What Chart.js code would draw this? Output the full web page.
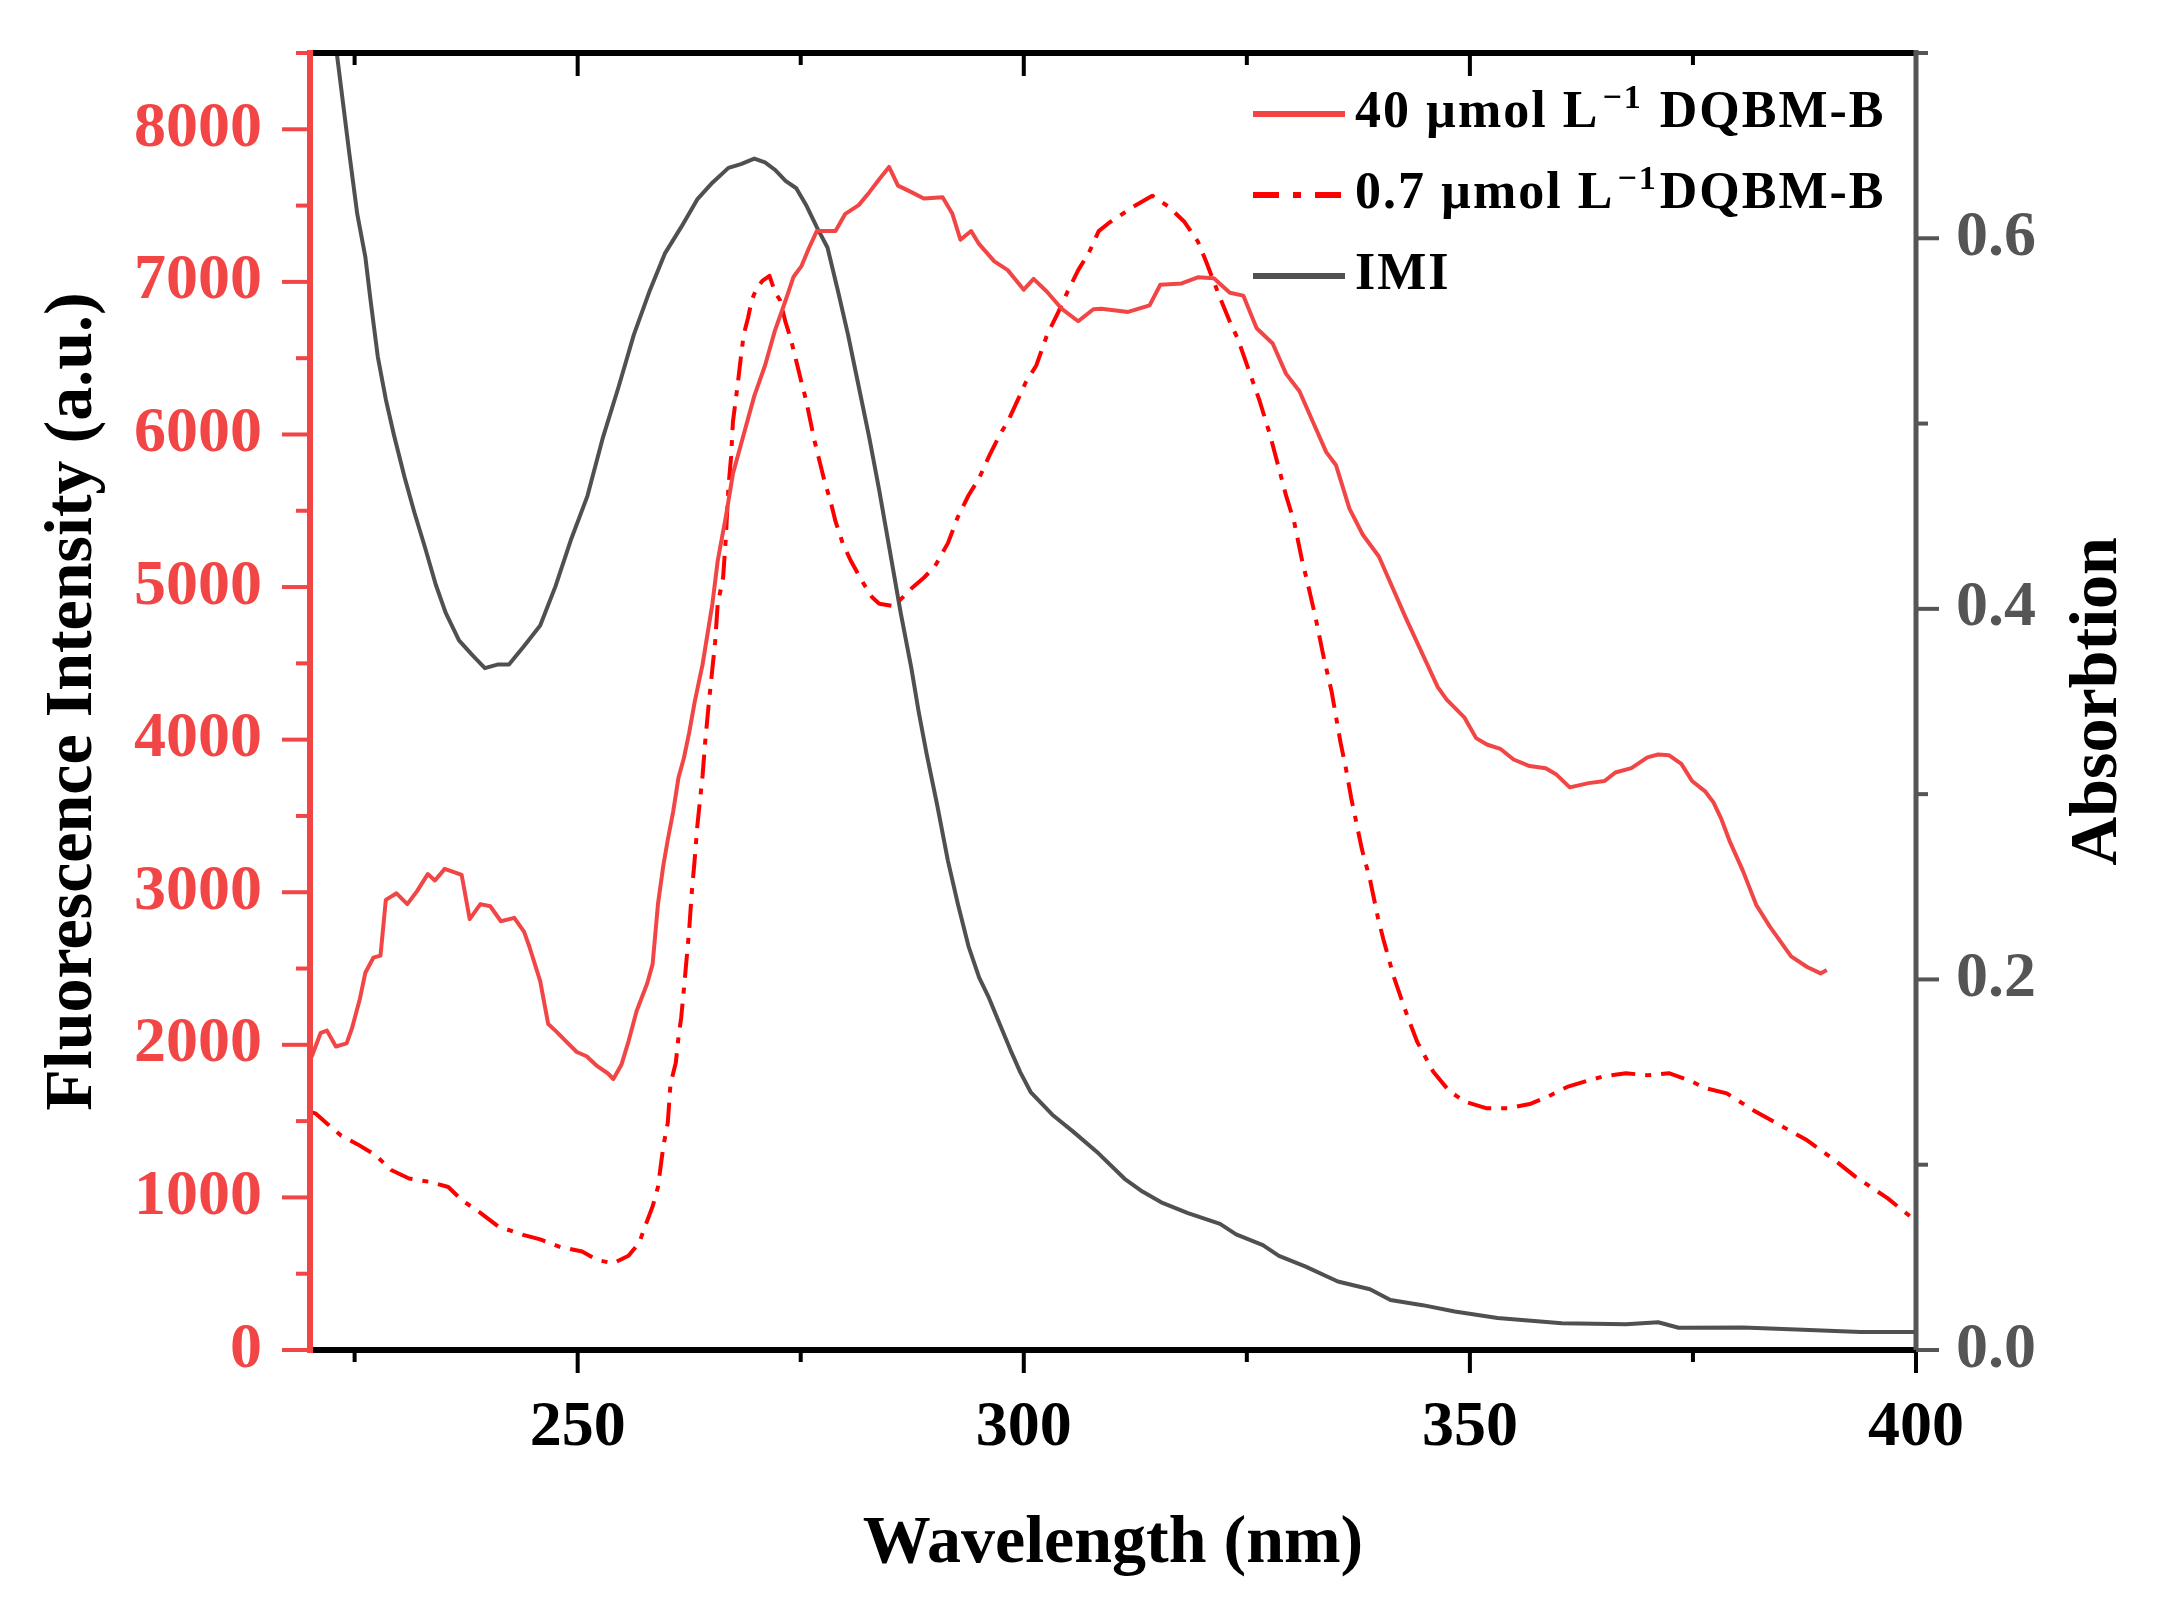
<!DOCTYPE html>
<html>
<head>
<meta charset="utf-8">
<title>DQBM-B fluorescence / IMI absorption</title>
<script src="https://cdn.jsdelivr.net/npm/chart.js@4.4.1/dist/chart.umd.min.js"></script>
<style>
html, body { margin: 0; padding: 0; background: #fff; }
#wrap { width: 2160px; height: 1597px; }
</style>
</head>
<body>
<div id="wrap"><canvas id="spectra" width="2160" height="1597"></canvas></div>
<script>
// values: wavelength (nm) and intensity / absorbance
const wl40 = [220.0, 220.3, 221.2, 221.9, 222.9, 224.1, 224.7, 225.6, 226.2, 227.1, 227.9, 228.5, 229.7, 230.9, 232.0, 233.2, 234.0, 235.1, 237.0, 237.9,
  239.1, 240.2, 241.4, 242.9, 244.0, 244.6, 245.8, 246.7, 247.5, 248.7, 249.9, 251.0, 252.2, 253.4, 254.0, 254.9, 255.7, 256.6, 257.8, 258.4,
  259.0, 259.6, 260.1, 260.7, 261.3, 261.9, 262.5, 263.1, 264.0, 265.1, 265.7, 266.6, 267.4, 268.6, 269.8, 271.0, 272.1, 273.3, 274.2, 275.1,
  275.9, 276.8, 278.9, 280.0, 281.5, 282.7, 283.8, 284.9, 285.9, 287.4, 288.8, 290.9, 292.0, 292.9, 294.1, 295.0, 296.7, 298.2, 300.0, 301.1,
  302.6, 304.3, 306.1, 307.8, 308.7, 311.7, 314.1, 315.3, 317.7, 319.5, 321.3, 323.1, 324.6, 326.1, 327.9, 329.4, 330.9, 332.4, 333.9, 335.0,
  336.5, 338.0, 339.8, 341.3, 342.8, 344.6, 346.4, 347.4, 349.4, 350.7, 351.9, 353.4, 354.9, 356.7, 358.5, 359.7, 361.2, 363.3, 365.1, 366.3,
  368.1, 369.9, 371.1, 372.3, 373.7, 374.9, 376.4, 377.3, 378.2, 379.1, 380.6, 382.1, 383.6, 386.0, 387.8, 389.3, 390.0];
const fl40 = [1900, 1939, 2079, 2093, 1989, 2009, 2107, 2304, 2472, 2571, 2585, 2950, 2993, 2922, 3007, 3119, 3077, 3153, 3113, 2824,
  2922, 2908, 2810, 2832, 2740, 2641, 2417, 2136, 2093, 2023, 1953, 1925, 1860, 1812, 1776, 1869, 2023, 2220, 2403, 2529,
  2922, 3175, 3344, 3527, 3751, 3878, 4046, 4243, 4493, 4890, 5174, 5458, 5742, 5998, 6253, 6452, 6679, 6878, 7034, 7105,
  7219, 7333, 7333, 7446, 7503, 7588, 7673, 7753, 7631, 7588, 7546, 7554, 7446, 7276, 7333, 7247, 7134, 7077, 6949, 7020,
  6935, 6821, 6742, 6821, 6824, 6803, 6846, 6981, 6990, 7030, 7024, 6929, 6910, 6696, 6596, 6397, 6283, 6083, 5884, 5798,
  5514, 5343, 5200, 5000, 4800, 4572, 4344, 4262, 4144, 4010, 3968, 3940, 3870, 3827, 3813, 3771, 3687, 3715, 3729, 3785,
  3813, 3884, 3903, 3898, 3841, 3729, 3659, 3589, 3477, 3337, 3140, 2916, 2776, 2580, 2510, 2468, 2490];

const wl07 = [220.0, 220.6, 221.8, 223.5, 225.3, 227.3, 229.1, 231.1, 233.5, 235.5, 237.0, 239.1, 241.1, 244.0, 245.8, 248.1, 250.5, 252.2, 254.0, 255.7,
  256.9, 257.5, 258.4, 259.0, 259.6, 260.1, 260.4, 261.0, 261.3, 261.6, 261.9, 262.2, 262.5, 262.8, 263.1, 263.4, 263.7, 264.0, 264.3, 264.7,
  265.4, 265.7, 266.3, 266.6, 266.9, 267.2, 267.4, 267.9, 268.3, 268.6, 269.1, 269.5, 270.1, 270.7, 271.5, 272.1, 272.7, 273.3, 273.9, 274.5,
  275.1, 275.6, 276.5, 277.1, 277.7, 278.3, 278.9, 279.7, 280.6, 281.8, 283.0, 283.8, 285.3, 286.2, 287.4, 288.8, 290.0, 291.5, 292.6, 293.8,
  295.0, 296.1, 297.3, 298.2, 299.1, 300.2, 301.4, 302.6, 303.8, 304.9, 306.1, 307.3, 308.4, 309.6, 310.5, 312.3, 314.4, 316.2, 318.0, 319.5,
  320.4, 321.9, 323.1, 324.0, 325.2, 326.4, 327.6, 328.5, 329.4, 330.3, 331.2, 331.8, 332.7, 333.6, 334.5, 335.5, 336.1, 336.7, 337.9, 338.8,
  339.7, 340.3, 341.5, 343.0, 344.1, 345.9, 347.7, 349.5, 351.9, 354.3, 356.7, 358.5, 360.9, 363.3, 365.1, 367.5, 369.9, 372.3, 374.6, 376.4,
  378.8, 381.8, 384.8, 387.8, 390.8, 393.2, 395.0, 396.8, 399.5, 400.0];
const fl07 = [1560, 1551, 1489, 1405, 1349, 1279, 1180, 1124, 1101, 1068, 983, 899, 809, 753, 725, 674, 646, 590, 568, 618,
  703, 801, 941, 1068, 1335, 1489, 1742, 1883, 2051, 2178, 2360, 2557, 2754, 3007, 3203, 3428, 3597, 3765, 3990, 4240,
  4635, 4890, 5061, 5316, 5657, 5856, 6083, 6310, 6509, 6651, 6765, 6878, 6963, 7006, 7040, 6935, 6878, 6736, 6623, 6481,
  6339, 6225, 5969, 5827, 5685, 5572, 5430, 5288, 5174, 5046, 4933, 4890, 4876, 4919, 4990, 5061, 5132, 5288, 5458, 5600,
  5714, 5856, 5998, 6083, 6197, 6339, 6452, 6651, 6793, 6935, 7077, 7191, 7333, 7389, 7423, 7494, 7565, 7494, 7394, 7266,
  7138, 6910, 6739, 6625, 6425, 6226, 5998, 5798, 5599, 5428, 5172, 5029, 4801, 4544, 4316, 3982, 3813, 3617, 3281, 3084,
  2832, 2692, 2440, 2187, 2019, 1823, 1696, 1626, 1584, 1584, 1612, 1654, 1724, 1767, 1795, 1814, 1800, 1814, 1767, 1716,
  1682, 1570, 1472, 1374, 1248, 1136, 1066, 995, 869, 850];

const wlImi = [220.0, 223.0, 224.4, 225.3, 226.2, 226.8, 227.6, 228.5, 229.4, 230.6, 231.7, 232.9, 234.1, 235.2, 236.7, 238.2, 239.6, 241.1, 242.3, 244.0,
  245.8, 247.5, 249.3, 251.1, 252.8, 254.6, 256.3, 258.1, 259.8, 261.6, 263.4, 265.1, 266.9, 268.3, 269.8, 271.0, 272.1, 273.3, 274.5, 275.6,
  276.8, 278.0, 279.2, 280.3, 281.5, 282.7, 283.8, 285.0, 286.2, 287.4, 288.2, 289.1, 290.3, 291.5, 292.6, 293.8, 295.0, 296.1, 297.3, 298.5,
  299.6, 300.8, 303.2, 305.5, 308.4, 311.3, 313.3, 315.4, 318.4, 322.0, 323.8, 326.8, 328.6, 331.6, 335.2, 338.8, 341.1, 344.7, 348.3, 353.1,
  360.3, 367.5, 371.1, 373.4, 380.6, 386.6, 393.8, 400.0];
const absImi = [0.81, 0.70, 0.646, 0.613, 0.590, 0.566, 0.536, 0.513, 0.494, 0.471, 0.452, 0.433, 0.413, 0.398, 0.383, 0.375, 0.368, 0.370, 0.370, 0.380,
  0.391, 0.412, 0.438, 0.461, 0.492, 0.520, 0.548, 0.572, 0.592, 0.606, 0.621, 0.630, 0.638, 0.640, 0.643, 0.641, 0.637, 0.631, 0.627, 0.618,
  0.606, 0.595, 0.571, 0.548, 0.520, 0.492, 0.464, 0.431, 0.398, 0.368, 0.345, 0.322, 0.294, 0.264, 0.241, 0.218, 0.201, 0.190, 0.176, 0.162,
  0.150, 0.139, 0.127, 0.118, 0.106, 0.0924, 0.0855, 0.0797, 0.0739, 0.0681, 0.0624, 0.0566, 0.0508, 0.045, 0.037, 0.0328, 0.027, 0.0242, 0.0208, 0.0173,
  0.0145, 0.0139, 0.015, 0.012, 0.0122, 0.0111, 0.0097, 0.0097];

// tick labels
const xTicks = [250, 300, 350, 400];
const yTicks = [0, 1000, 2000, 3000, 4000, 5000, 6000, 7000, 8000];
const y1Ticks = [0, 0.2, 0.4, 0.6];

// legend text: [text, superscript, text]
const legendText = [
  ['40 µmol L', '−1', ' DQBM-B'],
  ['0.7 µmol L', '−1', 'DQBM-B'],
  ['IMI', '', '']
];

const serif = '"Liberation Serif", "Times New Roman", serif';
const red40 = '#f24646';
const red07 = '#ff0000';
const grey = '#505050';
const axisGrey = '#555555';

Chart.defaults.font.family = serif;

function pairs(xs, ys) {
  return xs.map((x, i) => ({ x: x, y: ys[i] }));
}

function fixedTicks(values) {
  return scale => { scale.ticks = values.map(v => ({ value: v })); };
}

// pin the scale box size and drop the half-label padding chart.js adds
function fixedSize(w, h) {
  return scale => {
    if (w !== null) scale.width = w;
    if (h !== null) scale.height = h;
    scale.paddingTop = 0;
    scale.paddingBottom = 0;
    scale.paddingLeft = 0;
    scale.paddingRight = 0;
  };
}

// axis lines plus major/minor tick marks (top ticks point inward like the original)
const frame = {
  id: 'frame',
  afterDatasetsDraw(chart) {
    const { ctx, chartArea: a, scales } = chart;
    ctx.save();
    ctx.lineCap = 'butt';

    ctx.strokeStyle = '#000';
    ctx.lineWidth = 4;
    for (let v = 225; v <= 400; v += 25) {
      const px = scales.x.getPixelForValue(v);
      const len = v % 50 === 0 ? 23 : 12;
      ctx.beginPath();
      ctx.moveTo(px, a.bottom); ctx.lineTo(px, a.bottom + len);
      ctx.moveTo(px, a.top); ctx.lineTo(px, a.top + len);
      ctx.stroke();
    }
    ctx.lineWidth = 6;
    ctx.beginPath();
    ctx.moveTo(a.left, a.bottom); ctx.lineTo(a.right, a.bottom);
    ctx.moveTo(a.left, a.top); ctx.lineTo(a.right, a.top);
    ctx.stroke();

    ctx.strokeStyle = red40;
    ctx.lineWidth = 4;
    for (let v = 0; v <= 8500; v += 500) {
      const py = scales.y.getPixelForValue(v);
      const len = v % 1000 === 0 ? 28 : 14;
      ctx.beginPath();
      ctx.moveTo(a.left, py); ctx.lineTo(a.left - len, py);
      ctx.stroke();
    }
    ctx.lineWidth = 6;
    ctx.beginPath();
    ctx.moveTo(a.left, a.top - 3); ctx.lineTo(a.left, a.bottom + 3);
    ctx.stroke();

    ctx.strokeStyle = axisGrey;
    ctx.lineWidth = 4;
    for (let i = 0; i <= 7; i++) {
      const py = scales.y1.getPixelForValue(i / 10);
      const len = i % 2 === 0 ? 23 : 12;
      ctx.beginPath();
      ctx.moveTo(a.right, py); ctx.lineTo(a.right + len, py);
      ctx.stroke();
    }
    ctx.lineWidth = 5;
    ctx.beginPath();
    ctx.moveTo(a.right, a.top - 3); ctx.lineTo(a.right, a.bottom);
    ctx.stroke();
    ctx.restore();
  }
};

// right-hand title reads bottom to top, which Chart.js does not do on its own
const rightTitle = {
  id: 'rightTitle',
  afterDraw(chart) {
    const { ctx, chartArea: a } = chart;
    ctx.save();
    ctx.translate(a.right + 182, (a.top + a.bottom) / 2);
    ctx.rotate(-Math.PI / 2);
    ctx.fillStyle = '#000';
    ctx.font = 'bold 68px ' + serif;
    ctx.textAlign = 'center';
    ctx.textBaseline = 'middle';
    ctx.fillText('Absorbtion', 0, 0);
    ctx.restore();
  }
};

// legend drawn by hand so the superscript -1 can be set properly
const legendBox = {
  id: 'legendBox',
  afterDraw(chart) {
    const { ctx, chartArea: a } = chart;
    const x0 = a.left + 943;
    ctx.save();
    chart.data.datasets.forEach((ds, i) => {
      const base = a.top + 74 + i * 81;
      const ly = base - 13;
      ctx.strokeStyle = ds.borderColor;
      ctx.lineWidth = 6;
      ctx.setLineDash(ds.borderDash ? [26, 14, 8, 14] : []);
      ctx.beginPath();
      ctx.moveTo(x0, ly); ctx.lineTo(x0 + 92, ly);
      ctx.stroke();
      ctx.setLineDash([]);

      const parts = legendText[i];
      let tx = x0 + 102;
      ctx.fillStyle = '#000';
      ctx.textBaseline = 'alphabetic';
      ctx.textAlign = 'left';
      ctx.letterSpacing = '2px';
      ctx.font = 'bold 52px ' + serif;
      ctx.fillText(parts[0], tx, base);
      tx += ctx.measureText(parts[0]).width + 3;
      if (parts[1]) {
        ctx.font = 'bold 34px ' + serif;
        ctx.fillText(parts[1], tx, base - 19);
        tx += ctx.measureText(parts[1]).width + 2;
      }
      ctx.font = 'bold 52px ' + serif;
      ctx.fillText(parts[2], tx, base);
    });
    ctx.restore();
  }
};

new Chart(document.getElementById('spectra'), {
  type: 'line',
  data: {
    datasets: [
      { label: '40 µmol L−1 DQBM-B', data: pairs(wl40, fl40), yAxisID: 'y', borderColor: red40, borderWidth: 4 },
      { label: '0.7 µmol L−1 DQBM-B', data: pairs(wl07, fl07), yAxisID: 'y', borderColor: red07, borderWidth: 4, borderDash: [24, 10, 6, 10] },
      { label: 'IMI', data: pairs(wlImi, absImi), yAxisID: 'y1', borderColor: grey, borderWidth: 4 }
    ]
  },
  options: {
    responsive: false,
    animation: false,
    devicePixelRatio: 1,
    elements: {
      point: { radius: 0 },
      line: { tension: 0, borderJoinStyle: 'round', fill: false }
    },
    layout: { padding: { top: 53, left: 0, right: 0, bottom: 0 } },
    plugins: {
      legend: { display: false },
      tooltip: { enabled: false }
    },
    scales: {
      x: {
        type: 'linear',
        min: 220,
        max: 400,
        afterFit: fixedSize(null, 247),
        afterBuildTicks: fixedTicks(xTicks),
        grid: { display: false, drawTicks: false },
        border: { display: false },
        ticks: { padding: 40, color: '#000', autoSkip: false, maxRotation: 0, font: { size: 64, weight: 'bold' }, callback: v => String(v) },
        title: { display: true, text: 'Wavelength (nm)', color: '#000', font: { size: 68, weight: 'bold' }, padding: { top: 0, bottom: 12 } }
      },
      y: {
        position: 'left',
        min: 0,
        max: 8500,
        afterFit: fixedSize(310, null),
        afterBuildTicks: fixedTicks(yTicks),
        grid: { display: false, drawTicks: false },
        border: { display: false },
        ticks: { padding: 48, color: red40, autoSkip: false, font: { size: 64, weight: 'bold' }, callback: v => String(v) },
        title: { display: true, text: 'Fluorescence Intensity (a.u.)', color: '#000', font: { size: 68, weight: 'bold' }, padding: { top: 33, bottom: 0 } }
      },
      y1: {
        position: 'right',
        min: 0,
        max: 0.7,
        afterFit: fixedSize(244, null),
        afterBuildTicks: fixedTicks(y1Ticks),
        grid: { display: false, drawTicks: false },
        border: { display: false },
        ticks: { padding: 40, color: axisGrey, autoSkip: false, font: { size: 64, weight: 'bold' }, callback: v => v.toFixed(1) }
      }
    }
  },
  plugins: [frame, rightTitle, legendBox]
});
</script>
</body>
</html>
